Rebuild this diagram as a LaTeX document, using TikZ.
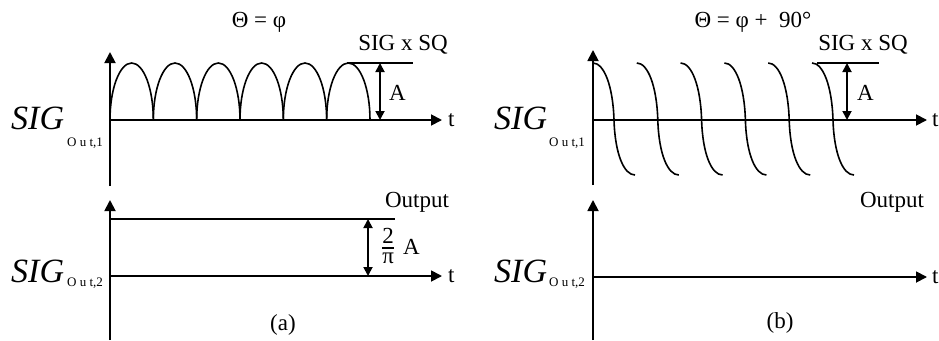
\documentclass[tikz,border=0pt]{standalone}
\usepackage{fontspec}
\setmainfont{Liberation Serif}
\usepackage{tikz}
\usetikzlibrary{arrows.meta}

\tikzset{
  axis/.style={line width=1.8pt, -{Triangle[length=11pt,width=11pt]}},
  dimarrow/.style={line width=1.8pt, {Triangle[length=9pt,width=9pt]}-{Triangle[length=9pt,width=9pt]}},
  wave/.style={line width=1.6pt},
  lbl/.style={font=\fontsize{23}{26}\selectfont, inner sep=0pt},
  siglbl/.style={font=\fontsize{34}{36}\selectfont\itshape, inner sep=0pt, anchor=base west},
  sublbl/.style={font=\fontsize{13}{15}\selectfont, inner sep=0pt, anchor=base west},
}

\begin{document}
\begin{tikzpicture}[x=1pt, y=-1pt]
    \useasboundingbox (0,0) rectangle (939,340);

    % (a) upper: rectified signal
    \coordinate (aUo) at (110,120);
    \coordinate (aUtop) at (110,52);
    \coordinate (aUbot) at (110,186);
    \coordinate (aUend) at (442,120);
    \draw[axis] (aUbot) -- (aUtop);
    \draw[axis] (aUo) -- (aUend);
    \node[lbl, anchor=west] (aUt) at (448,120) {t};
    \node[lbl] (aTheta) at (259,22) {Θ = φ};
    \node[siglbl] (aUsig) at (11,129) {SIG};
    \node[sublbl] (aUsub) at (67,146) {O u t,1};

    \foreach \k in {0,...,5}
        \draw[wave] ({110+43.33*\k},120) arc[start angle=180, end angle=360, x radius=21.67, y radius=57];

    \coordinate (aUpk) at (347,63);
    \coordinate (aUln) at (413,63);
    \draw[wave] (aUpk) -- (aUln);
    \node[lbl] (aUsq) at (403,45) {SIG x SQ};
    \coordinate (aUhi) at (380,63);
    \coordinate (aUlo) at (380,120);
    \draw[dimarrow] (aUhi) -- (aUlo);
    \node[lbl, anchor=west] (aUamp) at (389,93) {A};

    % (a) lower: averaged output
    \coordinate (aLo) at (110,276);
    \coordinate (aLtop) at (110,200);
    \coordinate (aLbot) at (110,340);
    \coordinate (aLend) at (442,276);
    \draw[axis] (aLbot) -- (aLtop);
    \draw[axis] (aLo) -- (aLend);
    \node[lbl, anchor=west] (aLt) at (448,276) {t};
    \node[siglbl] (aLsig) at (11,282) {SIG};
    \node[sublbl] (aLsub) at (67,286) {O u t,2};

    \coordinate (aLlvl) at (110,219);
    \coordinate (aLlvlend) at (395,219);
    \draw[wave] (aLlvl) -- (aLlvlend);
    \node[lbl] (aLout) at (417,202) {Output};
    \coordinate (aLhi) at (368,219);
    \coordinate (aLlo) at (368,276);
    \draw[dimarrow] (aLhi) -- (aLlo);
    \node[lbl, anchor=west] (aLamp) at (381,246) {${\mbox{2\rule[-2pt]{0pt}{2pt}}\above 1.5pt\mbox{\rule{0pt}{13pt}π}}$\hspace{8pt}A};
    \node[lbl] (aCap) at (283,325) {(a)};

    % (b) upper: shifted signal
    \coordinate (bUo) at (593,120);
    \coordinate (bUtop) at (593,50);
    \coordinate (bUbot) at (593,185);
    \coordinate (bUend) at (927,120);
    \draw[axis] (bUbot) -- (bUtop);
    \draw[axis] (bUo) -- (bUend);
    \node[lbl, anchor=west] (bUt) at (932,120) {t};
    \node[lbl] (bTheta) at (753,22) {Θ = φ +\ \ 90°};
    \node[siglbl] (bUsig) at (494,129) {SIG};
    \node[sublbl] (bUsub) at (549,146) {O u t,1};

    \foreach \k in {0,...,5}
        \draw[wave, shift={(43.8*\k,0)}] (593,63) .. controls (604,63) and (613,86) .. (614,120)
            .. controls (615,154) and (624,175) .. (635,175);

    \coordinate (bUpk) at (817,63);
    \coordinate (bUln) at (879,63);
    \draw[wave] (bUpk) -- (bUln);
    \node[lbl] (bUsq) at (863,45) {SIG x SQ};
    \coordinate (bUhi) at (847,63);
    \coordinate (bUlo) at (847,120);
    \draw[dimarrow] (bUhi) -- (bUlo);
    \node[lbl, anchor=west] (bUamp) at (857,93) {A};

    % (b) lower: zero output
    \coordinate (bLo) at (593,277);
    \coordinate (bLtop) at (593,200);
    \coordinate (bLbot) at (593,340);
    \coordinate (bLend) at (927,277);
    \draw[axis] (bLbot) -- (bLtop);
    \draw[axis] (bLo) -- (bLend);
    \node[lbl, anchor=west] (bLt) at (932,277) {t};
    \node[siglbl] (bLsig) at (494,282) {SIG};
    \node[sublbl] (bLsub) at (549,286) {O u t,2};
    \node[lbl] (bLout) at (892,202) {Output};
    \node[lbl] (bCap) at (780,323) {(b)};
\end{tikzpicture}
\end{document}
